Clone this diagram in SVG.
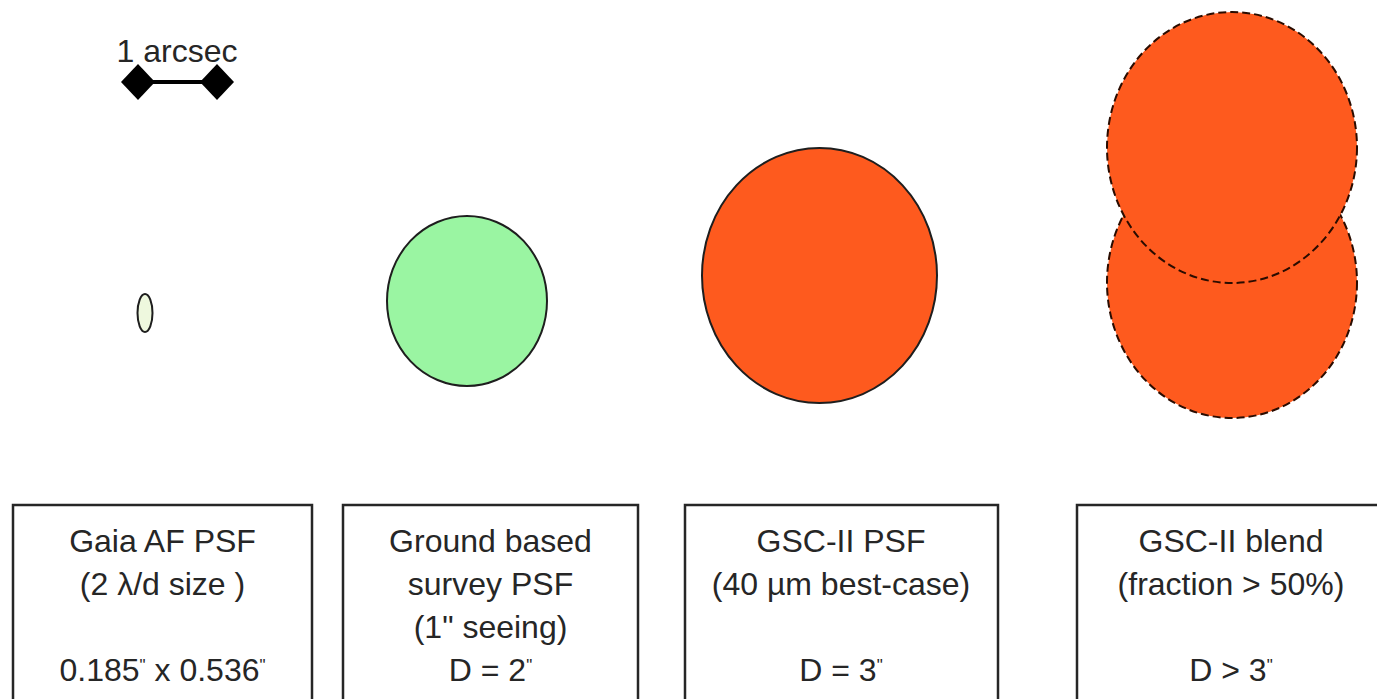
<svg xmlns="http://www.w3.org/2000/svg" width="1377" height="699" viewBox="0 0 1377 699">
<style>
.t{font-family:"Liberation Sans",Arial,sans-serif;font-size:32px;fill:#262626;text-anchor:middle}
.box{fill:#fff;stroke:#262626;stroke-width:2.5}
.q{font-size:17px}
.psf{stroke:#1e1e1e;stroke-width:2}
.blend{fill:#fe5a1e;stroke:#2a0c00;stroke-width:2;stroke-dasharray:8 4}
</style>
<rect width="1377" height="699" fill="#fff"/>
<g id="scalebar">
<text class="t" x="177" y="62">1 arcsec</text>
<line x1="138" y1="82" x2="217" y2="82" stroke="#000" stroke-width="4"/>
<polygon points="121,82 138,64 155,82 138,100" fill="#000"/>
<polygon points="200,82 217,64 234,82 217,100" fill="#000"/>
</g>
<g id="gaia-psf">
<ellipse class="psf" cx="145" cy="313" rx="7.5" ry="19" fill="#eef8de"/>
</g>
<g id="ground-psf">
<ellipse class="psf" cx="467" cy="301" rx="80" ry="85" fill="#9af5a2"/>
</g>
<g id="gsc-psf">
<ellipse class="psf" cx="819.5" cy="275.5" rx="117.5" ry="127.5" fill="#fe5a1e" stroke="#2a0c00"/>
</g>
<g id="gsc-blend">
<ellipse class="blend" cx="1232" cy="282.5" rx="125" ry="135.5"/>
<ellipse class="blend" cx="1232" cy="147.5" rx="125" ry="135.5"/>
</g>
<g id="connectors"></g>
<g id="box-gaia">
<rect class="box" x="13" y="505" width="299" height="210"/>
<text class="t" x="162.5" y="552">Gaia AF PSF</text>
<text class="t" x="162.5" y="595">(2 λ/d size )</text>
<text class="t" x="162.5" y="681">0.185<tspan class="q" dy="-10">"</tspan><tspan dy="10"> x 0.536</tspan><tspan class="q" dy="-10">"</tspan></text>
</g>
<g id="box-ground">
<rect class="box" x="343" y="505" width="295" height="210"/>
<text class="t" x="490.5" y="552">Ground based</text>
<text class="t" x="490.5" y="595">survey PSF</text>
<text class="t" x="490.5" y="638">(1" seeing)</text>
<text class="t" x="490.5" y="681">D = 2<tspan class="q" dy="-10">"</tspan></text>
</g>
<g id="box-gsc">
<rect class="box" x="685" y="505" width="313" height="210"/>
<text class="t" x="841" y="552">GSC-II PSF</text>
<text class="t" x="841" y="595">(40 µm best-case)</text>
<text class="t" x="841" y="681">D = 3<tspan class="q" dy="-10">"</tspan></text>
</g>
<g id="box-blend">
<rect class="box" x="1077" y="505" width="310" height="210"/>
<text class="t" x="1231" y="552">GSC-II blend</text>
<text class="t" x="1231" y="595">(fraction &gt; 50%)</text>
<text class="t" x="1231" y="681">D &gt; 3<tspan class="q" dy="-10">"</tspan></text>
</g>
</svg>
